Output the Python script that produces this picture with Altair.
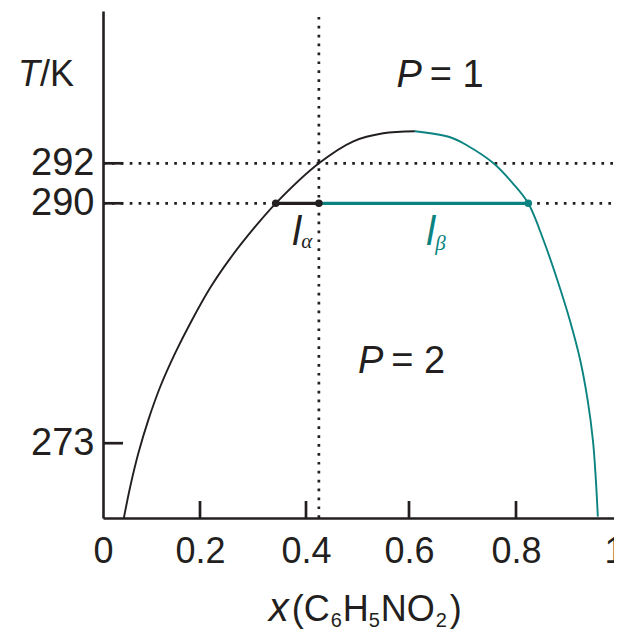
import altair as alt
import pandas as pd

# ---------------- data ----------------
# liquid-liquid coexistence curve (T/K against mole fraction of nitrobenzene)
alpha_x = [0.043, 0.056, 0.073, 0.093, 0.118, 0.149, 0.183, 0.219, 0.257,
           0.301, 0.343, 0.425, 0.492, 0.550, 0.611]
alpha_T = [267.7, 269.9, 272.3, 274.6, 277.0, 279.4, 281.7, 284.0, 286.1,
           288.2, 290.0, 292.0, 293.1, 293.5, 293.6]
beta_x = [0.611, 0.677, 0.708, 0.758, 0.794, 0.825, 0.856, 0.884, 0.910,
          0.931, 0.946, 0.957, 0.963, 0.967]
beta_T = [293.6, 293.3, 292.9, 292.0, 291.0, 290.0, 287.4, 284.6, 281.7,
          278.9, 276.1, 273.2, 270.4, 267.8]

x_ticks = [0, 0.2, 0.4, 0.6, 0.8, 1]
T_ticks = [273, 290, 292]
T_tie = 290
T_upper = 292
x_overall = 0.425
x_alpha_end = 0.343
x_beta_end = 0.825
T_min, T_max = 267.7, 299.6

INK = "#231f20"
TEAL = "#0b8380"
SANS = "Liberation Sans"
SERIF = "Liberation Serif"

# ---------------- scales (schematic, piecewise axes) ----------------
xscale = alt.Scale(domain=x_ticks, range=[0, 97, 203, 306, 413, 511],
                   nice=False, zero=False)
yscale = alt.Scale(domain=[T_min, 290, 292, T_max], range=[507, 192.3, 152.3, 0],
                   nice=False, zero=False)
xaxis = alt.Axis(values=x_ticks, format="~g", ticks=False, tickSize=0, grid=False,
                 title=None, labelFont=SANS, labelFontSize=36, labelColor=INK,
                 labelPadding=16, labelFlush=False, labelOverlap=False,
                 domainColor=INK, domainWidth=2.6)
yaxis = alt.Axis(values=T_ticks, ticks=False, tickSize=0, grid=False, title=None,
                 labelFont=SANS, labelFontSize=38, labelColor=INK, labelPadding=9,
                 labelOverlap=False, labelFlush=False,
                 domainColor=INK, domainWidth=2.6)
cscale = alt.Scale(domain=["alpha", "beta"], range=[INK, TEAL])


def X(f):
    return alt.X(f, type="quantitative", scale=xscale, axis=xaxis)


def Y(f):
    return alt.Y(f, type="quantitative", scale=yscale, axis=yaxis)


def C(f):
    return alt.Color(f, type="nominal", scale=cscale, legend=None)


curve = pd.DataFrame({
    "x": alpha_x + beta_x,
    "T": alpha_T + beta_T,
    "phase": ["alpha"] * len(alpha_x) + ["beta"] * len(beta_x),
})

dotted = pd.DataFrame({
    "x0": [0, 0, x_beta_end, x_overall],
    "x1": [1, x_alpha_end, 1, x_overall],
    "T0": [T_upper, T_tie, T_tie, T_min],
    "T1": [T_upper, T_tie, T_tie, T_max],
})

tie = pd.DataFrame({
    "x0": [x_alpha_end, x_overall],
    "x1": [x_overall, x_beta_end],
    "T": [T_tie, T_tie],
    "phase": ["alpha", "beta"],
})

pts = pd.DataFrame({
    "x": [x_alpha_end, x_overall, x_beta_end],
    "T": [T_tie, T_tie, T_tie],
    "phase": ["alpha", "alpha", "beta"],
})

layers = []

layers.append(alt.Chart(dotted).mark_rule(
    strokeDash=[2.7, 6.2], strokeWidth=2.7, color=INK, strokeCap="butt"
).encode(x=X("x0"), x2="x1", y=Y("T0"), y2="T1"))

layers.append(alt.Chart(curve).mark_line(
    strokeWidth=1.9, interpolate="catmull-rom"
).encode(x=X("x"), y=Y("T"), color=C("phase")))

layers.append(alt.Chart(tie).mark_rule(strokeWidth=3.3).encode(
    x=X("x0"), x2="x1", y=Y("T"), color=C("phase")))

layers.append(alt.Chart(pts).mark_circle(size=58, opacity=1).encode(
    x=X("x"), y=Y("T"), color=C("phase")))

# inward tick marks
layers.append(alt.Chart(pd.DataFrame({"T": T_ticks})).mark_rule(
    strokeWidth=2.7, color=INK
).encode(y=Y("T"), x=alt.value(0), x2=alt.value(20)))
layers.append(alt.Chart(pd.DataFrame({"x": x_ticks[1:5]})).mark_rule(
    strokeWidth=2.7, color=INK
).encode(x=X("x"), y=alt.value(507), y2=alt.value(490)))


def text_layer(x, T, label, size, color=INK, italic=False, align="left",
               dx=0, dy=0, font=SANS):
    df = pd.DataFrame({"x": [x], "T": [T], "label": [label]})
    return alt.Chart(df).mark_text(
        align=align, baseline="alphabetic", fontSize=size, font=font,
        fontStyle="italic" if italic else "normal", color=color, dx=dx, dy=dy
    ).encode(x=X("x"), y=Y("T"), text="label:N")


# T/K
layers.append(text_layer(-0.130, 295.87, "T", 36, italic=True, align="right"))
layers.append(text_layer(-0.130, 295.87, "/K", 36))
# P = 1, P = 2
layers.append(text_layer(0.624, 295.8, "P", 38, italic=True, align="right"))
layers.append(text_layer(0.624, 295.8, "= 1", 38, dx=8))
layers.append(text_layer(0.550, 278.0, "P", 38, italic=True, align="right"))
layers.append(text_layer(0.550, 278.0, "= 2", 38, dx=8))
# lever arms
layers.append(text_layer(0.391, 287.05, "l", 40, italic=True, align="right"))
layers.append(text_layer(0.391, 287.05, "α", 21, italic=True, dy=3, font=SERIF))
layers.append(text_layer(0.649, 287.05, "l", 40, color=TEAL, italic=True, align="right"))
layers.append(text_layer(0.649, 287.05, "β", 21, color=TEAL, italic=True, dy=5, font=SERIF))
# x axis title  x(C6H5NO2)
xt, Tt = 0.328, 260.4
layers.append(text_layer(xt, Tt, "x", 40, italic=True, dx=1))
layers.append(text_layer(xt, Tt, "(C", 36, dx=24))
layers.append(text_layer(xt, Tt, "6", 20, dx=63, dy=6))
layers.append(text_layer(xt, Tt, "H", 36, dx=75))
layers.append(text_layer(xt, Tt, "5", 20, dx=101, dy=6))
layers.append(text_layer(xt, Tt, "NO", 36, dx=113))
layers.append(text_layer(xt, Tt, "2", 20, dx=168, dy=6))
layers.append(text_layer(xt, Tt, ")", 36, dx=182))

chart = alt.layer(*layers).properties(
    width=511, height=507,
    autosize=alt.AutoSizeParams(type="none"),
    padding={"left": 95, "top": 3, "right": 0, "bottom": 113},
    background="white",
).configure_view(stroke=None)

chart.save("out.html", embed_options={"renderer": "svg", "actions": False})
